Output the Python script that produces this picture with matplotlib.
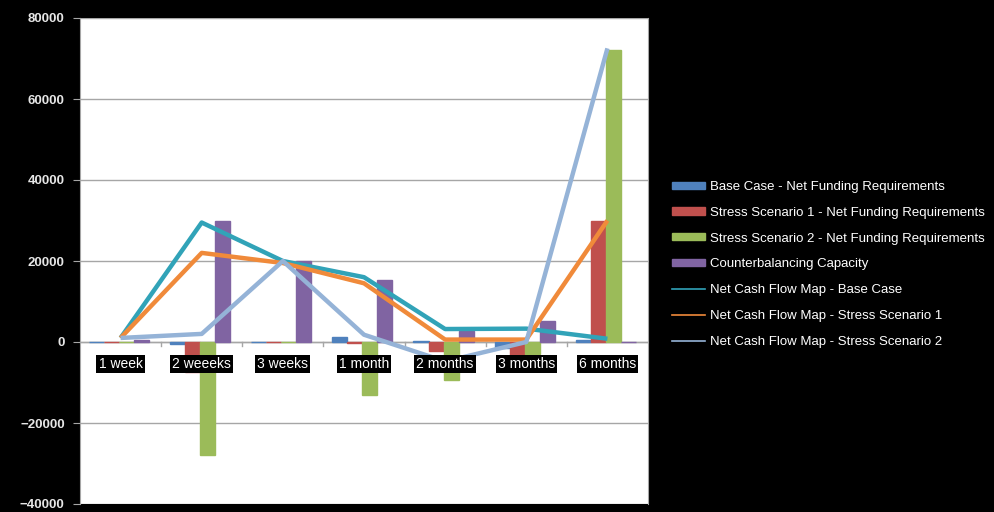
import numpy as np
import matplotlib.pyplot as plt
from matplotlib.patches import Patch
from matplotlib.lines import Line2D

# data
categories = ["1 week", "2 weeeks", "3 weeks", "1 month", "2 months", "3 months", "6 months"]
base_nfr = [0, -600, 0, 1200, 200, -1500, 600]
stress1_nfr = [0, -7500, 0, -300, -2300, -4500, 30000]
stress2_nfr = [0, -28000, 0, -13000, -9500, -3000, 72000]
cbc = [600, 30000, 20000, 15200, 2700, 5200, 0]
ncf_base = [1000, 29500, 20000, 16000, 3200, 3300, 800]
ncf_s1 = [1000, 22000, 19500, 14500, 600, 600, 30000]
ncf_s2 = [1000, 2000, 20000, 1800, -4800, 0, 72500]

bar_names = ["Base Case - Net Funding Requirements",
             "Stress Scenario 1 - Net Funding Requirements",
             "Stress Scenario 2 - Net Funding Requirements",
             "Counterbalancing Capacity"]
line_names = ["Net Cash Flow Map - Base Case",
              "Net Cash Flow Map - Stress Scenario 1",
              "Net Cash Flow Map - Stress Scenario 2"]
bar_colors = ["#4F81BD", "#C0504D", "#9BBB59", "#8064A2"]
line_colors = ["#31A3B8", "#F08A3A", "#95B3D7"]

plt.rcParams['font.family'] = ['Liberation Sans', 'DejaVu Sans']

fig = plt.figure(figsize=(9.94, 5.12), dpi=100, facecolor="black")
ax = fig.add_axes([80 / 994, 8 / 512, 568 / 994, 486 / 512])
ax.set_facecolor("white")

x = np.arange(len(categories))
w = 0.185
for k, (vals, col) in enumerate(zip([base_nfr, stress1_nfr, stress2_nfr, cbc], bar_colors)):
    ax.bar(x + (k - 1.5) * w - 0.02, vals, w, color=col, edgecolor=col, zorder=2)

for vals, col in zip([ncf_base, ncf_s1, ncf_s2], line_colors):
    ax.plot(x, vals, color=col, lw=3.2, zorder=3, solid_capstyle="butt")

ax.set_xlim(-0.5, len(categories) - 0.5)
ax.set_ylim(-40000, 80000)
ax.set_yticks(np.arange(-40000, 80001, 20000))
ax.yaxis.grid(True, color="#A6A6A6", lw=1)
ax.set_axisbelow(True)
ax.tick_params(axis="y", colors="#A6A6A6", labelcolor="#E6E6E6", length=5,
               labelsize=9.5, pad=6)
for t in ax.get_yticklabels():
    t.set_fontweight("bold")

# category axis sits at zero
ax.set_xticks([])
ax.axhline(0, color="#A6A6A6", lw=1, zorder=1)
for b in np.arange(0.5, len(categories) - 0.5, 1):
    ax.plot([b, b], [0, -1000], color="#A6A6A6", lw=1, zorder=1)
for i, c in enumerate(categories):
    ax.text(i, -5400, c, ha="center", va="center", color="white", fontsize=10,
            zorder=4, bbox=dict(facecolor="black", edgecolor="none", pad=1.5))

for s in ["top", "bottom"]:
    ax.spines[s].set_visible(False)
ax.spines["left"].set_color("#A6A6A6")
ax.spines["right"].set_color("#A6A6A6")

handles = [Patch(facecolor=c, edgecolor=c) for c in bar_colors]
handles += [Line2D([0], [0], color=c, lw=1.2) for c in line_colors]
leg = fig.legend(handles, bar_names + line_names, loc="upper left",
                 bbox_to_anchor=(660 / 994, 1 - 169 / 512), frameon=False,
                 labelcolor="white", fontsize=9.5, handlelength=2.5,
                 handleheight=0.45, handletextpad=0.4, labelspacing=1.05)

fig.savefig("out.png", dpi=100, facecolor="black")
